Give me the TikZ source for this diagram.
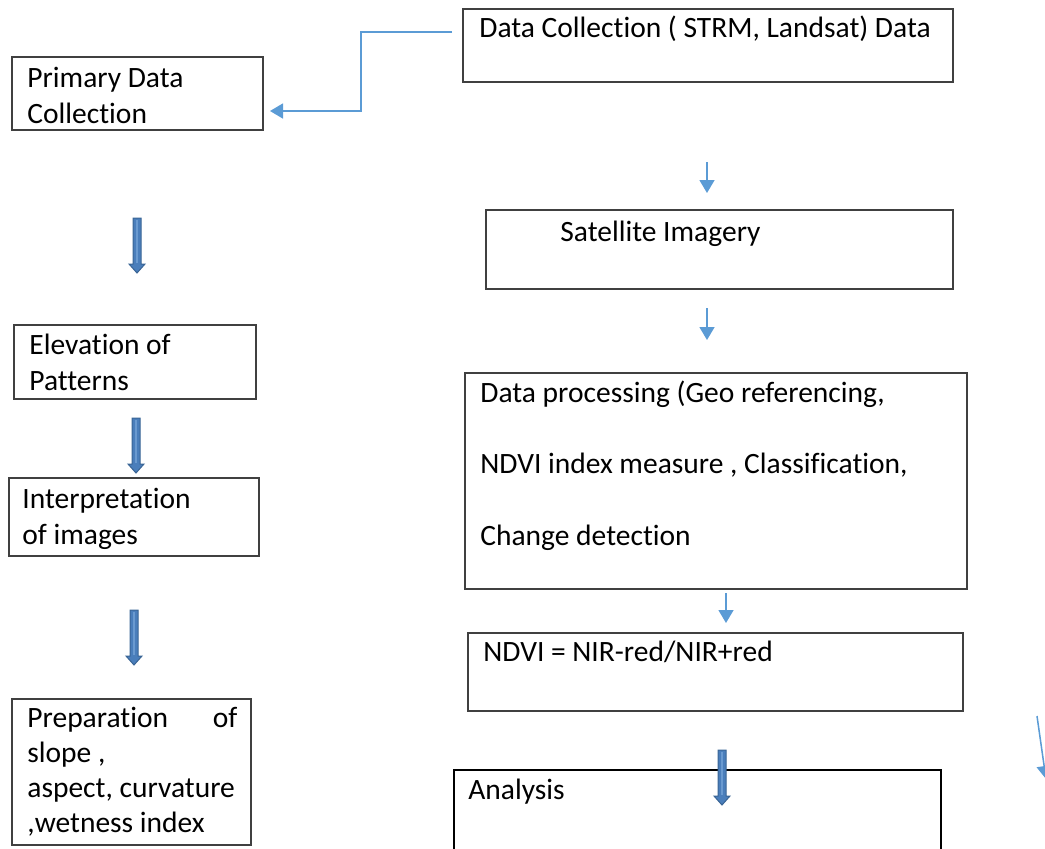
\documentclass[tikz,border=0pt]{standalone}
\usepackage{fontspec}
\setmainfont[Ligatures=NoCommon]{Carlito}
\usetikzlibrary{arrows.meta,fit}
\definecolor{boxgray}{HTML}{404040}
\definecolor{thinblue}{HTML}{5B9BD5}
\definecolor{barfill}{HTML}{4A7EBB}
\definecolor{bardraw}{HTML}{3A6595}
\definecolor{barlight}{HTML}{6A9AD0}
\tikzset{
  box/.style={draw=boxgray, line width=0.75pt, inner sep=0pt, fit={#1}},
  blackbox/.style={draw=black, line width=0.75pt, inner sep=0pt, fit={#1}},
  txt/.style={inner sep=0pt, anchor=base west, font=\fontsize{14.75pt}{18pt}\selectfont},
  thinarrow/.style={draw=thinblue, line width=0.75pt, -{Triangle[width=7.5pt,length=6.5pt]}},
  blockarrow/.pic={
    \filldraw[fill=barfill, draw=bardraw, line width=0.5pt]
      (-4,0) -- (4,0) -- (4,#1-9) -- (8,#1-9) -- (0,#1) -- (-8,#1-9) -- (-4,#1-9) -- cycle;
    \draw[barlight, line width=1pt] (0,1.5) -- (0,#1-10);
  }
}
\begin{document}
\begin{tikzpicture}[x=0.5pt,y=-0.5pt]
\useasboundingbox (0,0) rectangle (1045,848);
\begin{scope}
\clip (0,0) rectangle (1045,848);
% right column boxes
\node[box={(463,9) (953,82)}] (dc) {};
\node[txt] (dct) at (479,37) {Data Collection ( STRM, Landsat) Data};
\node[box={(486,210) (953,289)}] (si) {};
\node[txt] (sit) at (560,241) {Satellite Imagery};
\node[box={(465,373) (967,589)}] (dp) {};
\node[txt] (dpt1) at (480,402) {Data processing (Geo referencing,};
\node[txt] (dpt2) at (480,473) {NDVI index measure , Classification,};
\node[txt] (dpt3) at (480,545) {Change detection};
\node[box={(468,633) (963,711)}] (nd) {};
\node[txt] (ndt) at (483,661) {NDVI = NIR-red/NIR+red};
\node[blackbox={(454,770) (941,870)}] (an) {};
\node[txt] (ant) at (468,799) {Analysis};
% left column boxes
\node[box={(12,57) (263,130)}] (pd) {};
\node[txt] (pdt1) at (27,87) {Primary Data};
\node[txt] (pdt2) at (27,123) {Collection};
\node[box={(14,325) (256,399)}] (ep) {};
\node[txt] (ept1) at (29,354) {Elevation of};
\node[txt] (ept2) at (29,390) {Patterns};
\node[box={(9,478) (259,556)}] (ii) {};
\node[txt] (iit1) at (22,508) {Interpretation};
\node[txt] (iit2) at (22,544) {of images};
\node[box={(12,699) (251,845)}] (pr) {};
\node[txt] (prt1) at (27,727) {\makebox[105pt][s]{Preparation of}};
\node[txt] (prt2) at (27,762) {slope ,};
\node[txt] (prt3) at (27,797) {aspect, curvature};
\node[txt] (prt4) at (27,832) {,wetness index};
% thin connectors
\coordinate (c1) at (452,32);
\coordinate (c2) at (361,111);
\coordinate (c3) at (270,111);
\draw[thinarrow] (c1) -| (c2) -- (c3);
\coordinate (a1s) at (707,162); \coordinate (a1e) at (707,193);
\draw[thinarrow] (a1s) -- (a1e);
\coordinate (a2s) at (707,308); \coordinate (a2e) at (707,340);
\draw[thinarrow] (a2s) -- (a2e);
\coordinate (a3s) at (726,593); \coordinate (a3e) at (726,623);
\draw[thinarrow] (a3s) -- (a3e);
\coordinate (a4s) at (1037,716); \coordinate (a4e) at (1046,779);
\draw[thinarrow] (a4s) -- (a4e);
% block arrows
\pic at (137,218) {blockarrow=55};
\pic at (136,418) {blockarrow=55};
\pic at (134,610) {blockarrow=55};
\pic at (722,750) {blockarrow=55};
\end{scope}
\end{tikzpicture}
\end{document}
